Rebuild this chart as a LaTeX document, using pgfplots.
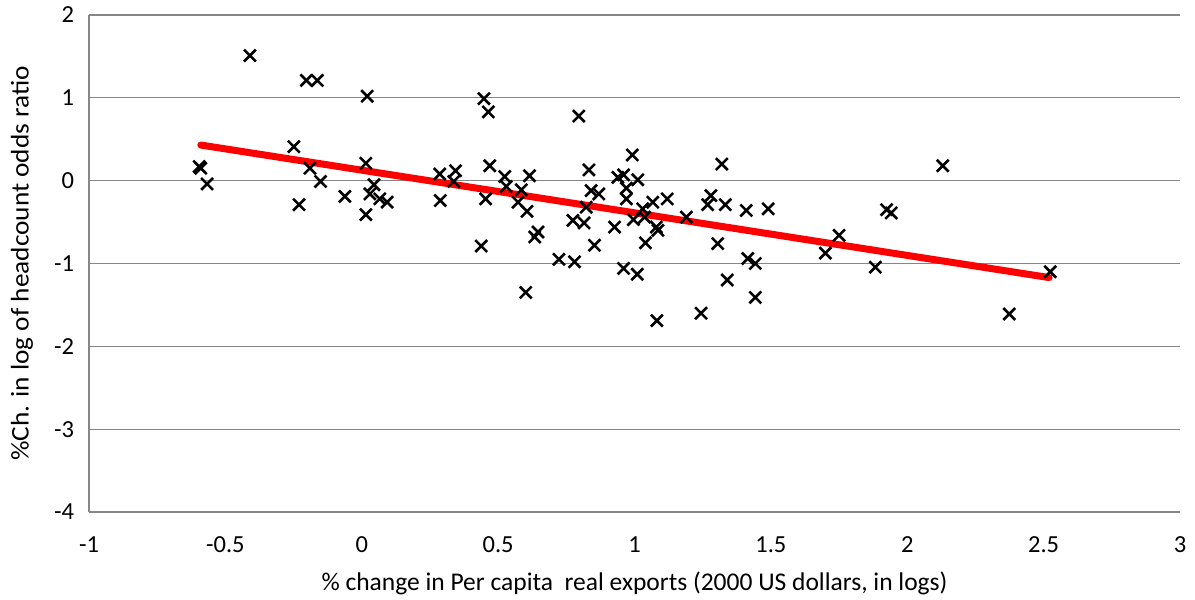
\documentclass[border=0pt]{standalone}
\usepackage{pgfplots}
\pgfplotsset{compat=1.18}
\usepackage{fontspec}
\setmainfont{Carlito}
\newfontfamily\ylabelfont[FakeStretch=1.07]{Carlito}
\usetikzlibrary{calc}
\definecolor{gridgray}{RGB}{134,134,134}
\begin{document}
\begin{tikzpicture}
\begin{axis}[
  name=ax,
  scale only axis,
  width=545.5bp, height=248.5bp,
  xmin=-1, xmax=3, ymin=-4, ymax=2,
  xtick={-1,-0.5,0,0.5,1,1.5,2,2.5,3},
  ytick={-4,-3,-2,-1,0,1,2},
  /pgf/number format/assume math mode=true,
  ymajorgrids,
  grid style={gridgray, line width=0.6pt},
  axis line style={draw=none},
  axis x line*=bottom,
  axis y line*=left,
  tick style={draw=none},
  ticklabel style={font=\fontsize{12.3}{14}\selectfont, text=black},
  xticklabel style={yshift=-9bp},
  yticklabel style={xshift=-4bp},
  xlabel={\% change in Per capita\ \ real exports (2000 US dollars, in logs)},
  ylabel={\%Ch. in log of headcount odds ratio},
  xlabel style={font=\fontsize{12.8}{14}\selectfont, at={(axis description cs:0.5,0)}, anchor=center, yshift=-35.5bp},
  ylabel style={font=\ylabelfont\fontsize{12.8}{14}\selectfont, at={(axis description cs:0,0.5)}, anchor=center, xshift=0bp, yshift=33.5bp},
  clip=false,
]
\draw[gridgray, line width=0.6pt] (rel axis cs:0,0) -- (rel axis cs:0,1);
\draw[gridgray, line width=0.6pt] (rel axis cs:0,0) -- (rel axis cs:1,0);
\addplot[only marks, mark=x, mark size=4.2bp, mark options={line width=1.3pt, black}] coordinates {
(-0.596,0.17) (-0.590,0.15) (-0.567,-0.04) (-0.41,1.51) (-0.249,0.41)
(-0.23,-0.29) (-0.203,1.21) (-0.163,1.21) (-0.19,0.15) (-0.151,-0.01)
(-0.062,-0.19) (0.015,0.21) (0.02,1.02) (0.045,-0.05) (0.03,-0.16)
(0.015,-0.41) (0.066,-0.22) (0.093,-0.26) (0.286,0.08) (0.288,-0.24)
(0.344,0.12) (0.337,-0.01) (0.448,0.99) (0.464,0.83) (0.454,-0.22)
(0.469,0.18) (0.438,-0.79) (0.524,0.05) (0.53,-0.07) (0.615,0.06)
(0.585,-0.11) (0.573,-0.26) (0.606,-0.37) (0.646,-0.62) (0.634,-0.68)
(0.601,-1.35) (0.723,-0.95) (0.78,-0.98) (0.774,-0.48) (0.815,-0.51)
(0.796,0.78) (0.823,-0.32) (0.833,0.13) (0.841,-0.12) (0.869,-0.16)
(0.853,-0.78) (0.927,-0.56) (0.992,0.31) (0.939,0.04) (0.96,0.07)
(0.97,-0.09) (0.97,-0.22) (1.012,0.01) (0.96,-1.06) (1.01,-1.13)
(0.996,-0.47) (1.03,-0.34) (1.037,-0.44) (1.067,-0.26) (1.04,-0.75)
(1.08,-0.56) (1.086,-0.60) (1.082,-1.69) (1.12,-0.22) (1.19,-0.44)
(1.244,-1.60) (1.268,-0.29) (1.28,-0.18) (1.32,0.20) (1.305,-0.76)
(1.333,-0.29) (1.34,-1.20) (1.41,-0.36) (1.415,-0.94) (1.443,-1.00)
(1.443,-1.41) (1.49,-0.34) (1.70,-0.875) (1.75,-0.66) (1.883,-1.045)
(1.924,-0.35) (1.941,-0.39) (2.13,0.18) (2.374,-1.61) (2.524,-1.10)
};
\addplot[red, line width=3.5bp, line cap=round] coordinates {(-0.59,0.43) (2.52,-1.17)};
\end{axis}
\pgfresetboundingbox
\path[use as bounding box] ($(ax.south west)+(-44.5bp,-44bp)$) rectangle ($(ax.north east)+(7.5bp,7.5bp)$);
\end{tikzpicture}
\end{document}
